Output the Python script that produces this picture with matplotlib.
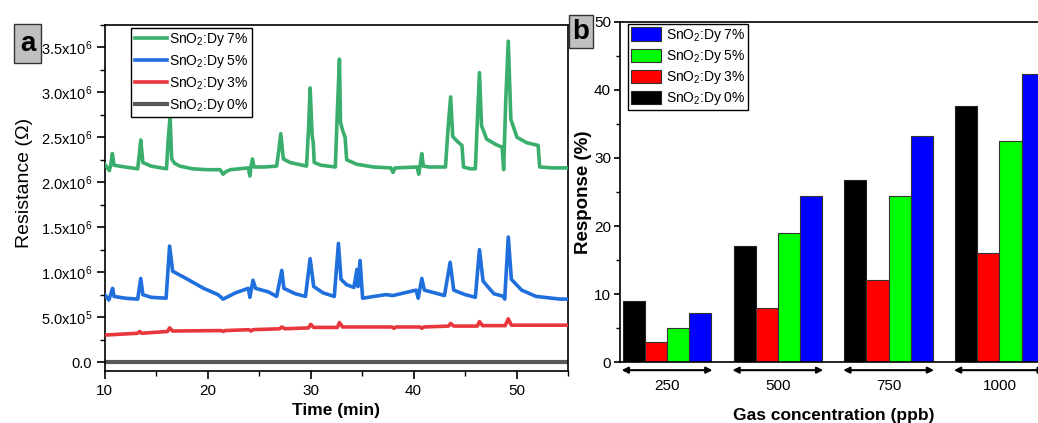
import numpy as np
import matplotlib
matplotlib.use("Agg")
import matplotlib.pyplot as plt
from matplotlib.ticker import FixedLocator, MultipleLocator, FuncFormatter

plt.rcParams['font.family'] = ['Liberation Sans', 'DejaVu Sans']
plt.rcParams['mathtext.fontset'] = 'custom'
plt.rcParams['mathtext.rm'] = 'Liberation Sans'
plt.rcParams['mathtext.it'] = 'Liberation Sans:italic'
plt.rcParams['mathtext.bf'] = 'Liberation Sans:bold'

# ---- panel a: resistance vs time (values in 1e6 ohm) ----
green_t = [10.0, 10.45, 10.6, 10.74, 10.9, 12.0, 13.2, 13.35, 13.5, 13.7, 14.5, 16.0, 16.15,
           16.35, 16.5, 16.8, 17.3, 18.5, 19.9, 21.2, 21.5, 21.8, 22.2, 23.95, 24.1, 24.2,
           24.35, 24.5, 25.5, 26.7, 26.9, 27.1, 27.35, 28.0, 29.6, 29.8, 29.95, 30.15, 30.25,
           30.35, 31.0, 32.4, 32.6, 32.8, 32.9, 33.1, 33.35, 33.5, 34.5, 36.1, 37.8, 38.0,
           38.2, 40.35, 40.5, 40.65, 40.8, 40.95, 41.5, 43.1, 43.35, 43.6, 43.8, 44.2, 44.7,
           44.85, 45.5, 46.0, 46.2, 46.4, 46.6, 47.1, 48.0, 48.6, 48.75, 48.95, 49.2, 49.45,
           50.05, 51.0, 52.1, 52.25, 53.5, 55.0]
green_r = [2.20, 2.13, 2.20, 2.32, 2.19, 2.17, 2.15, 2.30, 2.47, 2.22, 2.18, 2.15, 2.45,
           2.73, 2.26, 2.21, 2.18, 2.15, 2.14, 2.14, 2.09, 2.12, 2.14, 2.16, 2.07, 2.17,
           2.26, 2.17, 2.17, 2.18, 2.35, 2.54, 2.26, 2.22, 2.18, 2.60, 3.05, 2.51, 2.45,
           2.22, 2.19, 2.17, 2.80, 3.37, 2.67, 2.58, 2.50, 2.25, 2.20, 2.17, 2.16, 2.11,
           2.16, 2.17, 2.09, 2.20, 2.32, 2.18, 2.17, 2.17, 2.60, 2.95, 2.51, 2.46, 2.41,
           2.17, 2.15, 2.15, 2.70, 3.22, 2.63, 2.48, 2.42, 2.39, 2.14, 2.90, 3.57, 2.70,
           2.50, 2.44, 2.41, 2.17, 2.16, 2.16]

blue_t = [10.0, 10.4, 10.6, 10.76, 10.9, 12.0, 13.2, 13.5, 13.7, 14.5, 15.96, 16.3, 16.6,
          17.9, 19.6, 21.0, 21.5, 22.7, 23.95, 24.1, 24.4, 24.65, 25.9, 26.7, 27.2, 27.4,
          28.5, 29.5, 29.95, 30.3, 31.2, 32.3, 32.7, 32.95, 33.5, 34.2, 34.5, 34.6, 34.8,
          35.05, 37.3, 38.0, 40.25, 40.45, 40.8, 41.05, 43.0, 43.55, 43.9, 45.0, 46.0, 46.4,
          46.75, 47.8, 48.75, 48.85, 49.2, 49.5, 50.5, 51.9, 54.25, 55.0]
blue_r = [0.75, 0.69, 0.76, 0.82, 0.73, 0.71, 0.70, 0.93, 0.75, 0.72, 0.71, 1.29, 1.01,
          0.93, 0.82, 0.75, 0.70, 0.77, 0.82, 0.72, 0.91, 0.82, 0.78, 0.73, 1.02, 0.82,
          0.76, 0.73, 1.15, 0.84, 0.77, 0.73, 1.32, 0.92, 0.86, 0.83, 1.03, 0.84, 1.13,
          0.71, 0.75, 0.74, 0.80, 0.71, 0.93, 0.80, 0.74, 1.11, 0.80, 0.75, 0.72, 1.25,
          0.90, 0.76, 0.73, 0.70, 1.39, 0.92, 0.80, 0.73, 0.70, 0.70]

red_t = [10.0, 13.2, 13.4, 13.6, 16.1, 16.3, 16.6, 21.3, 21.5, 21.7, 24.0, 24.2, 24.4, 27.0,
         27.2, 27.5, 29.8, 30.0, 30.3, 32.6, 32.8, 33.1, 37.9, 38.1, 38.3, 40.6, 40.8, 41.0,
         43.4, 43.6, 43.9, 46.2, 46.4, 46.7, 48.9, 49.2, 49.5, 55.0]
red_r = [0.30, 0.32, 0.34, 0.32, 0.34, 0.38, 0.345, 0.35, 0.34, 0.35, 0.36, 0.345, 0.36, 0.37,
         0.39, 0.37, 0.38, 0.42, 0.385, 0.385, 0.44, 0.39, 0.39, 0.375, 0.39, 0.39, 0.375, 0.39,
         0.40, 0.43, 0.40, 0.40, 0.45, 0.405, 0.405, 0.48, 0.41, 0.41]

gray_t = [10.0, 55.0]
gray_r = [0.0, 0.0]

# ---- panel b: response bars ----
conc = ['250', '500', '750', '1000']
resp_0 = [9.0, 17.0, 26.7, 37.6]
resp_3 = [3.0, 8.0, 12.0, 16.0]
resp_5 = [5.0, 18.9, 24.4, 32.5]
resp_7 = [7.2, 24.4, 33.3, 42.3]

fig = plt.figure(figsize=(10.38, 4.23), dpi=100)

# panel a
ax1 = fig.add_axes([0.1009, 0.1229, 0.4463, 0.818])
ax1.plot(gray_t, np.array(gray_r) * 1e6, color='#595959', lw=3.0, label='SnO$_2$:Dy 0%', zorder=2)
ax1.plot(red_t, np.array(red_r) * 1e6, color='#e8383d', lw=2.6, label='SnO$_2$:Dy 3%', zorder=3)
ax1.plot(blue_t, np.array(blue_r) * 1e6, color='#1f6fdc', lw=2.6, label='SnO$_2$:Dy 5%', zorder=4)
ax1.plot(green_t, np.array(green_r) * 1e6, color='#3aae6c', lw=2.6, label='SnO$_2$:Dy 7%', zorder=5)
ax1.set_xlim(10, 55)
ax1.set_ylim(-0.1e6, 3.75e6)
ax1.xaxis.set_major_locator(FixedLocator([10, 20, 30, 40, 50]))
ax1.xaxis.set_minor_locator(FixedLocator([15, 25, 35, 45, 55]))
ax1.yaxis.set_major_locator(MultipleLocator(0.5e6))
ax1.yaxis.set_minor_locator(MultipleLocator(0.25e6))


def res_fmt(v, pos):
    if abs(v) < 1:
        return '0.0'
    e = int(np.floor(np.log10(abs(v)) + 1e-9))
    return '%.1fx10$^{%d}$' % (v / 10 ** e, e)


ax1.yaxis.set_major_formatter(FuncFormatter(res_fmt))
ax1.tick_params(which='major', direction='out', length=6, width=1.2, labelsize=10.5, pad=3)
ax1.tick_params(axis='x', which='major', labelsize=11)
ax1.tick_params(which='minor', direction='out', length=3.5, width=1.0)
for s in ax1.spines.values():
    s.set_linewidth(1.2)
ax1.set_xlabel('Time (min)', fontsize=12.5, fontweight='bold', labelpad=4)
ax1.set_ylabel('Resistance (\u03a9)', fontsize=14)
ax1.yaxis.set_label_coords(-0.155, 0.543)
h, l = ax1.get_legend_handles_labels()
leg1 = ax1.legend(h[::-1], l[::-1], loc='upper left', bbox_to_anchor=(0.057, 0.992),
                  borderaxespad=0, fontsize=10, handlelength=2.3, labelspacing=0.35,
                  handletextpad=0.2, borderpad=0.25, fancybox=False, framealpha=1,
                  edgecolor='black')
leg1.get_frame().set_linewidth(1.0)
fig.text(0.0265, 0.897, 'a', fontsize=20, fontweight='bold', ha='center', va='center',
         bbox=dict(boxstyle='square,pad=0.22', fc='#c0c0c0', ec='#333333', lw=1.0))

# panel b
ax2 = fig.add_axes([0.5973, 0.1442, 0.4114, 0.8038])
x = np.arange(len(conc))
w = 0.2
ax2.bar(x - 1.5 * w, resp_0, w, color='black', edgecolor='#222222', lw=0.8, label='SnO$_2$:Dy 0%')
ax2.bar(x - 0.5 * w, resp_3, w, color='#ff0000', edgecolor='#333333', lw=0.8, label='SnO$_2$:Dy 3%')
ax2.bar(x + 0.5 * w, resp_5, w, color='#00ff00', edgecolor='#333333', lw=0.8, label='SnO$_2$:Dy 5%')
ax2.bar(x + 1.5 * w, resp_7, w, color='#0000ff', edgecolor='#333333', lw=0.8, label='SnO$_2$:Dy 7%')
ax2.set_xlim(-0.425, 3.43)
ax2.set_ylim(0, 50)
ax2.yaxis.set_major_locator(MultipleLocator(10))
ax2.yaxis.set_minor_locator(MultipleLocator(5))
ax2.set_xticks(x)
ax2.set_xticklabels(conc)
ax2.tick_params(axis='x', length=0, pad=12, labelsize=11)
ax2.tick_params(axis='y', which='major', direction='out', length=4.5, width=1.2, labelsize=11, pad=2)
ax2.tick_params(axis='y', which='minor', direction='out', length=3, width=1.0)
for s in ax2.spines.values():
    s.set_linewidth(1.2)
for xi in x:
    ax2.annotate('', xy=(xi - 0.41, -0.024), xytext=(xi + 0.41, -0.024),
                 xycoords=('data', 'axes fraction'), textcoords=('data', 'axes fraction'),
                 arrowprops=dict(arrowstyle='<|-|>', color='black', lw=1.5,
                                 mutation_scale=9, shrinkA=0, shrinkB=0),
                 annotation_clip=False)
ax2.set_xlabel('Gas concentration (ppb)', fontsize=12.5, fontweight='bold', labelpad=11)
ax2.set_ylabel('Response (%)', fontsize=13.5, fontweight='bold')
ax2.yaxis.set_label_coords(-0.066, 0.5)
h, l = ax2.get_legend_handles_labels()
leg2 = ax2.legend(h[::-1], l[::-1], loc='upper left', bbox_to_anchor=(0.019, 0.994),
                  borderaxespad=0, fontsize=10, handlelength=2.2, handleheight=1.1,
                  labelspacing=0.3, handletextpad=0.3, borderpad=0.2, fancybox=False,
                  framealpha=1, edgecolor='black')
leg2.get_frame().set_linewidth(1.0)
fig.text(0.5595, 0.925, 'b', fontsize=20, fontweight='bold', ha='center', va='center',
         bbox=dict(boxstyle='square,pad=0.12', fc='#c0c0c0', ec='#333333', lw=1.0))

fig.savefig('out.png', dpi=100)
